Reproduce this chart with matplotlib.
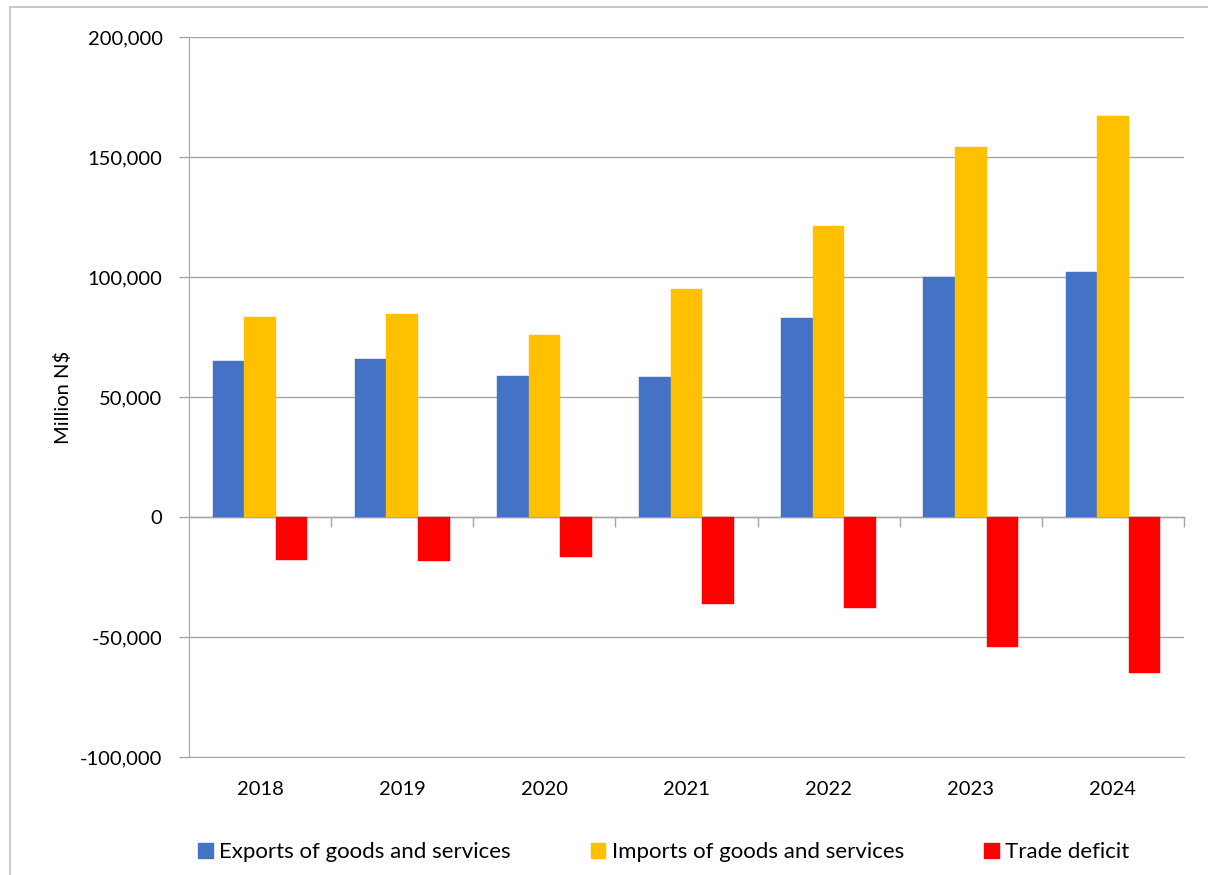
import numpy as np
import matplotlib
matplotlib.use("Agg")
import matplotlib.pyplot as plt
from matplotlib.patches import Patch, Rectangle
from matplotlib.ticker import FuncFormatter

years = ["2018", "2019", "2020", "2021", "2022", "2023", "2024"]
exports = [64900, 66000, 58600, 58400, 83000, 99800, 101900]
imports = [83300, 84700, 75700, 94800, 121200, 154000, 167000]
deficit = [-17900, -18200, -16500, -36300, -38100, -54300, -65000]

series_names = ["Exports of goods and services", "Imports of goods and services", "Trade deficit"]
colors = ["#4472C4", "#FFC000", "#FF0000"]
grid_col = "#A6A6A6"

plt.rcParams["font.family"] = ["Lato", "DejaVu Sans"]
plt.rcParams["font.size"] = 14.5

fig = plt.figure(figsize=(12.08, 8.75), dpi=100)
ax = fig.add_axes([189 / 1208, 1 - 757 / 875, 995 / 1208, 720 / 875])

x = np.arange(len(years))
w = 0.222
for i, (vals, col) in enumerate(zip([exports, imports, deficit], colors)):
    ax.bar(x + (i - 1) * w, vals, width=w, color=col, edgecolor=col,
           linewidth=0.3, zorder=3)

ax.set_xlim(-0.5, len(years) - 0.5)
ax.set_ylim(-100000, 200000)
ax.set_yticks(np.arange(-100000, 200001, 50000))
ax.yaxis.set_major_formatter(FuncFormatter(lambda v, p: f"{int(v):,}"))
ax.yaxis.grid(True, color=grid_col, linewidth=1.0, zorder=0)
ax.tick_params(axis="y", length=7, width=1.0, color=grid_col, pad=12)

ax.set_xticks(x, years)
ax.tick_params(axis="x", length=0, pad=17)

for s in ["top", "right"]:
    ax.spines[s].set_visible(False)
ax.spines["left"].set_color(grid_col)
ax.spines["bottom"].set_color(grid_col)

# category axis with boundary ticks, sitting on the zero line
ymin, ymax = ax.get_ylim()
zero_frac = (0 - ymin) / (ymax - ymin)
sec = ax.secondary_xaxis(zero_frac)
sec.set_xticks(np.arange(len(years)) + 0.5, [""] * len(years))
sec.tick_params(axis="x", direction="out", length=7, width=1.0, color=grid_col)
sec.spines["bottom"].set_color(grid_col)
sec.spines["bottom"].set_linewidth(1.0)

ax.set_ylabel("Million N$", fontsize=14.5)
ax.yaxis.set_label_coords(-0.118, 0.5)

handles = [Patch(facecolor=c, edgecolor=c) for c in colors]
fig.legend(handles, series_names, loc="center", ncol=3, frameon=False,
           bbox_to_anchor=(664 / 1208, 1 - 852 / 875),
           handlelength=0.65, handleheight=0.65, handletextpad=0.3,
           columnspacing=3.6, fontsize=16)

# chart frame
fig.patches.append(Rectangle((10 / 1208, -0.1), 1.2, 1.1 - 7 / 875,
                             transform=fig.transFigure, fill=False,
                             edgecolor="#BFBFBF", linewidth=1.2))

fig.savefig("out.png", dpi=100)
